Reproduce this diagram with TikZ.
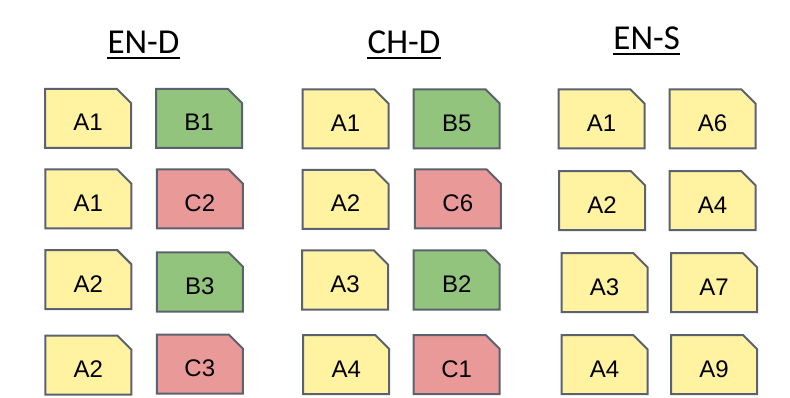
\documentclass[tikz,border=0pt]{standalone}
\usepackage{fontspec}
\setmainfont{Liberation Sans}
\newfontfamily\headfont{Carlito}
\usetikzlibrary{shapes.misc}
\definecolor{cardline}{HTML}{5B616E}
\definecolor{cardA}{HTML}{FFF2A0}
\definecolor{cardB}{HTML}{93C47D}
\definecolor{cardC}{HTML}{EA9999}

\begin{document}
\begin{tikzpicture}[x=1pt,y=-1pt,
  card/.style={chamfered rectangle,chamfered rectangle corners=north east,
    chamfered rectangle xsep=7pt,chamfered rectangle ysep=7pt,
    draw=cardline,line width=2pt,minimum width=86pt,minimum height=59pt,
    inner sep=0pt,text height=25pt,text depth=0pt,
    font=\fontsize{24}{28}\selectfont},
  ca/.style={card,fill=cardA},
  cb/.style={card,fill=cardB},
  cc/.style={card,fill=cardC},
  head/.style={inner sep=0pt,anchor=base,font=\headfont\fontsize{35}{40}\selectfont},
  uline/.style={line width=2pt}]
  \useasboundingbox (0,0) rectangle (790,398);

  \node[head] (tEND) at (143.5,53.3) {EN-D};
  \node[head] (tCHD) at (404,53.3) {CH-D};
  \node[head] (tENS) at (646.7,49.5) {EN-S};
  \foreach \t in {tEND,tCHD,tENS}
    \draw[uline] ([yshift=-4.5pt]\t.base west) -- ([yshift=-4.5pt]\t.base east);

  % EN-D
  \node[ca] (end1a) at (88,118.5) {A1};
  \node[cb] (end1b) at (199,118.5) {B1};
  \node[ca] (end2a) at (88.3,199) {A1};
  \node[cc] (end2b) at (199.8,199) {C2};
  \node[ca] (end3a) at (88.3,279.7) {A2};
  \node[cb] (end3b) at (199.8,282) {B3};
  \node[ca] (end4a) at (88.3,365) {A2};
  \node[cc] (end4b) at (199.8,364) {C3};

  % CH-D
  \node[ca] (chd1a) at (345.5,119) {A1};
  \node[cb] (chd1b) at (456.7,119) {B5};
  \node[ca] (chd2a) at (345.5,199.5) {A2};
  \node[cc] (chd2b) at (457.8,199) {C6};
  \node[ca] (chd3a) at (345,280) {A3};
  \node[cb] (chd3b) at (456.7,280) {B2};
  \node[ca] (chd4a) at (346.2,364.5) {A4};
  \node[cc] (chd4b) at (456.7,364.5) {C1};

  % EN-S
  \node[ca] (ens1a) at (601.5,119) {A1};
  \node[ca] (ens1b) at (712.5,119) {A6};
  \node[ca] (ens2a) at (602,200.7) {A2};
  \node[ca] (ens2b) at (712.5,200.7) {A4};
  \node[ca] (ens3a) at (604.5,282.7) {A3};
  \node[ca] (ens3b) at (714,282.7) {A7};
  \node[ca] (ens4a) at (604.5,364.7) {A4};
  \node[ca] (ens4b) at (714,364.5) {A9};
\end{tikzpicture}
\end{document}
